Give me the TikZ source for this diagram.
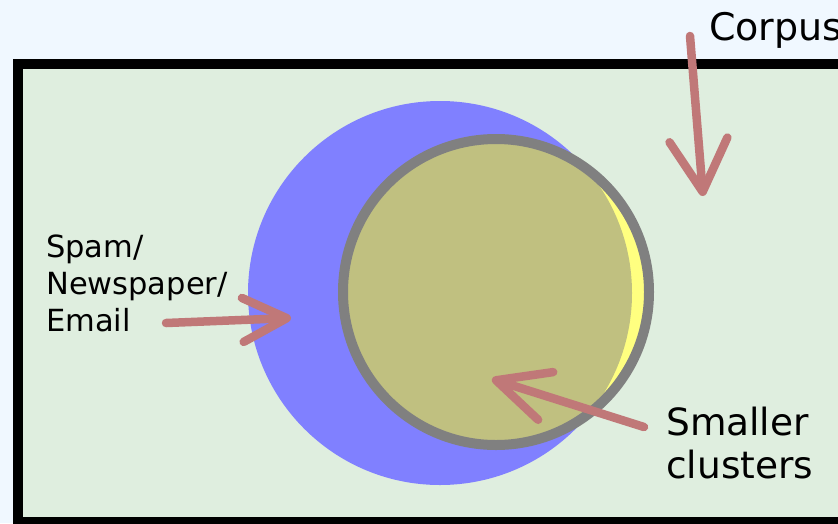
\documentclass[tikz,border=0pt]{standalone}
\usepackage{fontspec}
\setmainfont{DejaVu Sans}
\usetikzlibrary{arrows.meta,positioning}
\definecolor{skyback}{HTML}{F0F8FF}
\definecolor{corpusgreen}{HTML}{DFEEDF}
\definecolor{spamblue}{HTML}{8080FF}
\definecolor{clusteryellow}{HTML}{FFFF80}
\definecolor{clusterolive}{HTML}{C0C080}
\definecolor{ringgray}{HTML}{808080}
\definecolor{arrowrose}{HTML}{C07878}
\tikzset{
  etiqueta/.style={
    align=left,
    inner sep=0pt,
    anchor=north west
  },
  flecha/.style={
    -{Straight Barb[length=52pt,width=58pt,round]},
    line width=8.5pt,
    line cap=round,
    arrowrose
  }
}

\begin{document}
\begin{tikzpicture}[x=1pt,y=-1pt]
\clip (0,0) rectangle (838,523);
\fill[skyback] (0,0) rectangle (838,523);
% corpus box
\draw[line width=10pt,fill=corpusgreen] (18,63.5) rectangle (880,522);
% clusters
\fill[spamblue] (440,293) circle[radius=192pt];
\fill[clusteryellow] (496,292) circle[radius=153pt];
\begin{scope}
  \clip (496,292) circle[radius=153pt];
  \fill[clusterolive] (440,293) circle[radius=192pt];
\end{scope}
\draw[ringgray,line width=10pt] (496,292) circle[radius=153pt];
% labels
\node[etiqueta,font=\fontsize{38}{44}\selectfont] (corpus) at (709,12) {Corpus};
\node[etiqueta,font=\fontsize{30.5}{37}\selectfont] (spam) at (46,235) {Spam/\\Newspaper/\\Email};
\node[etiqueta,font=\fontsize{37.5}{43}\selectfont] (smaller) at (666,407) {Smaller\\clusters};
% arrows
\coordinate (corpusstart) at (690,36);
\coordinate (corpustip) at (703,196);
\coordinate (spamstart) at (166,323);
\coordinate (spamtip) at (291,318);
\coordinate (smallerstart) at (644,427);
\coordinate (smallertip) at (492,379);
\draw[flecha] (corpusstart) -- (corpustip);
\draw[flecha,-{Straight Barb[length=44pt,width=44pt,round]}] (spamstart) -- (spamtip);
\draw[flecha,-{Straight Barb[length=52pt,width=50pt,round]}] (smallerstart) -- (smallertip);
\end{tikzpicture}
\end{document}
